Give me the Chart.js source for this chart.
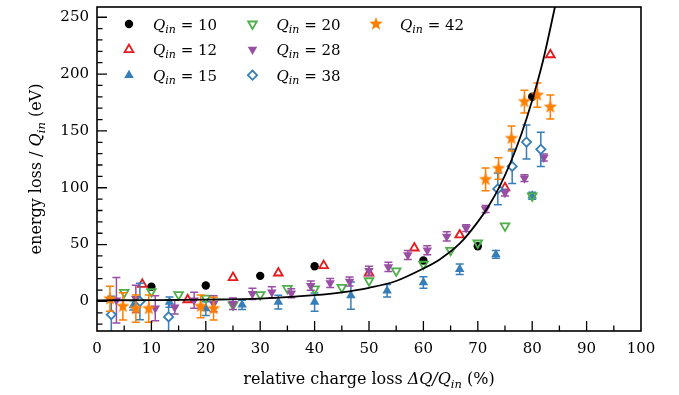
<!DOCTYPE html>
<html>
<head>
<meta charset="utf-8">
<script src="https://cdn.jsdelivr.net/npm/chart.js@4.4.1/dist/chart.umd.min.js"></script>
<style>
  html, body { margin: 0; padding: 0; background: #fff; }
  #wrap { position: relative; width: 679px; height: 395px; }
</style>
</head>
<body>
<div id="wrap"><canvas id="lossChart"></canvas></div>
<script>
// incoming charge states (legend entries)
const qIn = [10, 12, 15, 20, 28, 38, 42];

// relative charge loss (%) and energy loss / Q_in (eV)
const q10X = [10, 20, 30, 40, 60, 70, 80];
const q10Y = [13, 14, 22.5, 31, 36, 48.5, 180];

const q12X = [8.33, 16.67, 25, 33.33, 41.67, 50, 58.33, 66.67, 75, 83.33];
const q12Y = [15, 1.5, 21, 25, 31.5, 25, 47, 58.5, 100, 217];

const q15X = [6.67, 13.33, 20, 26.67, 33.33, 40, 46.67, 53.33, 60, 66.67, 73.33, 80];
const q15Y = [-3.5, -0.6, -6.3, -3, -0.6, -0.6, 5.2, 9.5, 16.7, 28.4, 41.4, 93];
const q15Err = [4, 4.5, 6, 4, 6, 8, 12, 5.5, 5, 4.6, 3.5, 3];

const q20X = [5, 10, 15, 20, 25, 30, 35, 40, 45, 50, 55, 60, 65, 70, 75, 80];
const q20Y = [8, 8.7, 6, 3, -3, 6, 11.5, 11, 12.4, 18.2, 26.9, 32.7, 45, 51.4, 66.5, 92.8];

const q28X = [3.57, 7.14, 10.71, 14.29, 17.86, 21.43, 25, 28.57, 32.14, 35.71, 39.29, 42.86,
              46.43, 50, 53.57, 57.14, 60.71, 64.29, 67.86, 71.43, 75, 78.57, 82.14];
const q28Y = [1, 2.3, -6, -5, 1, -2, -2, 6.7, 8, 7.2, 13.9, 16.2,
              17.6, 26.9, 30.4, 40.8, 45, 57.2, 64.5, 81.3, 95.7, 108.4, 126.6];
const q28Err = [20, 12, 11, 6, 7, 7, 5, 5, 5, 4, 4, 4,
                4, 4, 4, 4, 4, 4, 3, 3, 3, 3, 3];

const q38X = [2.63, 7.89, 13.16, 73.68, 76.32, 78.95, 81.58];
const q38Y = [-11.5, 0, -13.6, 99, 118.8, 140.2, 133.8];
const q38Err = [16, 16, 15, 14, 15, 15, 15];

const q42X = [2.38, 4.76, 7.14, 9.52, 19.05, 21.43, 71.43, 73.81, 76.19, 78.57, 80.95, 83.33];
const q42Y = [2.3, -4.3, -6.3, -6.3, -4.3, -6.3, 107.3, 117, 143.4, 175.8, 181.5, 171];
const q42Err = [11, 12, 12, 12, 10, 10, 10, 9.5, 11, 10, 10.7, 10.5];

// black guide curve
const fitX = [0, 10, 20, 30, 40, 45, 50, 55, 60, 63, 66.7, 70, 72, 74, 76, 78, 80, 82, 84, 86];
const fitY = [1, 1.2, 1.6, 2.5, 5.5, 8, 12, 18, 29, 37, 51, 70, 84, 101, 122, 147, 177, 212, 255, 300];

const xTicks = [0, 10, 20, 30, 40, 50, 60, 70, 80, 90, 100];
const yTicks = [0, 50, 100, 150, 200, 250];

const SERIF = '"DejaVu Serif", serif';
const RED = '#e41a1c', BLUE = '#377eb8', GREEN = '#4daf4a', PURPLE = '#984ea3', ORANGE = '#ff7f00';

function pts(xs, ys) {
    return xs.map((x, i) => ({ x: x, y: ys[i] }));
}

function starImage(color, r) {
    const c = document.createElement('canvas');
    const s = 2 * r + 2;
    c.width = s; c.height = s;
    const g = c.getContext('2d');
    g.fillStyle = color;
    g.beginPath();
    for (let i = 0; i < 10; i++) {
        const rr = i % 2 ? r * 0.42 : r;
        const a = -Math.PI / 2 + i * Math.PI / 5;
        g.lineTo(s / 2 + rr * Math.cos(a), s / 2 + rr * Math.sin(a));
    }
    g.closePath();
    g.fill();
    return c;
}
const star = starImage(ORANGE, 7);

// marker styles, in legend order (Q_in = 10, 12, 15, 20, 28, 38, 42)
const markers = [
    { pointStyle: 'circle', radius: 4.2, rotation: 0, borderWidth: 0, fill: '#000', stroke: '#000' },
    { pointStyle: 'triangle', radius: 5, rotation: 0, borderWidth: 1.8, fill: 'rgba(255,255,255,0)', stroke: RED },
    { pointStyle: 'triangle', radius: 5.5, rotation: 0, borderWidth: 0, fill: BLUE, stroke: BLUE },
    { pointStyle: 'triangle', radius: 5, rotation: 180, borderWidth: 1.8, fill: 'rgba(255,255,255,0)', stroke: GREEN },
    { pointStyle: 'triangle', radius: 5.5, rotation: 180, borderWidth: 0, fill: PURPLE, stroke: PURPLE },
    { pointStyle: 'rectRot', radius: 4.6, rotation: 0, borderWidth: 1.8, fill: '#fff', stroke: BLUE },
    { pointStyle: star, radius: 7, rotation: 0, borderWidth: 0, fill: ORANGE, stroke: ORANGE }
];

function scatterSet(idx, xs, ys, errs) {
    const m = markers[idx];
    return {
        label: 'Q_in = ' + qIn[idx],
        data: pts(xs, ys),
        errors: errs || null,
        pointStyle: m.pointStyle,
        pointRadius: m.radius,
        pointRotation: m.rotation,
        pointBorderWidth: m.borderWidth,
        pointBackgroundColor: m.fill,
        pointBorderColor: m.stroke,
        showLine: false
    };
}

// draws text made of pieces with different fonts / offsets
function rich(ctx, parts, x, y, align) {
    let w = 0;
    parts.forEach(p => { ctx.font = p.f; p.w = ctx.measureText(p.t).width; w += p.w; });
    let cx = align === 'center' ? x - w / 2 : x;
    parts.forEach(p => {
        ctx.font = p.f;
        ctx.fillText(p.t, cx, y + (p.dy || 0));
        cx += p.w;
    });
}

const errorBars = {
    id: 'errorBars',
    beforeDatasetDraw(chart, args) {
        const ds = chart.data.datasets[args.index];
        if (!ds.errors) return;
        const ctx = chart.ctx, xs = chart.scales.x, ys = chart.scales.y, a = chart.chartArea;
        ctx.save();
        ctx.beginPath();
        ctx.rect(a.left, a.top, a.right - a.left, a.bottom - a.top);
        ctx.clip();
        ctx.strokeStyle = ds.pointBorderColor;
        ctx.lineWidth = 1.5;
        ds.data.forEach((p, i) => {
            const px = xs.getPixelForValue(p.x);
            const top = ys.getPixelForValue(p.y + ds.errors[i]);
            const bot = ys.getPixelForValue(p.y - ds.errors[i]);
            ctx.beginPath();
            ctx.moveTo(px, top); ctx.lineTo(px, bot);
            ctx.moveTo(px - 4, top); ctx.lineTo(px + 4, top);
            ctx.moveTo(px - 4, bot); ctx.lineTo(px + 4, bot);
            ctx.stroke();
        });
        ctx.restore();
    }
};

const frame = {
    id: 'frame',
    afterDraw(chart) {
        const ctx = chart.ctx, a = chart.chartArea, xs = chart.scales.x, ys = chart.scales.y;
        ctx.save();
        ctx.strokeStyle = '#000';

        // inward tick marks
        ctx.lineWidth = 1.3;
        ctx.beginPath();
        for (let v = 5; v < 100; v += 5) {
            const px = xs.getPixelForValue(v);
            const len = v % 10 === 0 ? 10 : 5.5;
            ctx.moveTo(px, a.bottom); ctx.lineTo(px, a.bottom - len);
        }
        for (let v = -20; v <= 250; v += 10) {
            const py = ys.getPixelForValue(v);
            const len = v % 50 === 0 ? 10 : 5.5;
            ctx.moveTo(a.left, py); ctx.lineTo(a.left + len, py);
        }
        ctx.stroke();

        ctx.lineWidth = 1.6;
        ctx.strokeRect(a.left, a.top, a.right - a.left, a.bottom - a.top);

        // legend, three columns inside the plot
        ctx.fillStyle = '#000';
        ctx.textBaseline = 'alphabetic';
        qIn.forEach((q, i) => {
            const col = i < 3 ? 0 : (i < 6 ? 1 : 2);
            const row = i % 3;
            const mx = a.left + 32 + col * 123.5;
            const my = a.top + 17 + row * 25.6;
            const m = markers[i];
            ctx.save();
            ctx.fillStyle = m.fill;
            ctx.strokeStyle = m.stroke;
            ctx.lineWidth = m.borderWidth;
            Chart.helpers.drawPoint(ctx, { pointStyle: m.pointStyle, radius: m.radius, rotation: m.rotation, borderWidth: m.borderWidth }, mx, my);
            ctx.restore();
            ctx.fillStyle = '#000';
            rich(ctx, [
                { t: 'Q', f: 'italic 15px ' + SERIF },
                { t: 'in', f: 'italic 11px ' + SERIF, dy: 3 },
                { t: ' = ' + q, f: '15px ' + SERIF }
            ], mx + 24, my + 5.5, 'left');
        });

        // axis titles
        rich(ctx, [
            { t: 'relative charge loss ', f: '16px ' + SERIF },
            { t: 'ΔQ/Q', f: 'italic 16px ' + SERIF },
            { t: 'in', f: 'italic 11.5px ' + SERIF, dy: 3.5 },
            { t: ' (%)', f: '16px ' + SERIF }
        ], (a.left + a.right) / 2, 384, 'center');

        ctx.translate(41, (a.top + a.bottom) / 2);
        ctx.rotate(-Math.PI / 2);
        rich(ctx, [
            { t: 'energy loss / ', f: '16px ' + SERIF },
            { t: 'Q', f: 'italic 16px ' + SERIF },
            { t: 'in', f: 'italic 11.5px ' + SERIF, dy: 3.5 },
            { t: ' (eV)', f: '16px ' + SERIF }
        ], 0, 0, 'center');
        ctx.restore();
    }
};

const tickFont = { family: SERIF, size: 15 };

new Chart(document.getElementById('lossChart'), {
    type: 'scatter',
    data: {
        datasets: [
            {
                type: 'line',
                label: 'fit',
                data: pts(fitX, fitY),
                borderColor: '#000',
                borderWidth: 1.8,
                pointRadius: 0,
                showLine: true,
                fill: false,
                cubicInterpolationMode: 'monotone',
                clip: 0
            },
            scatterSet(6, q42X, q42Y, q42Err),
            scatterSet(5, q38X, q38Y, q38Err),
            scatterSet(4, q28X, q28Y, q28Err),
            scatterSet(3, q20X, q20Y),
            scatterSet(2, q15X, q15Y, q15Err),
            scatterSet(1, q12X, q12Y),
            scatterSet(0, q10X, q10Y)
        ]
    },
    options: {
        responsive: true,
        maintainAspectRatio: false,
        animation: false,
        layout: { padding: { left: 0, right: 38, top: 3, bottom: 0 } },
        plugins: { legend: { display: false }, tooltip: { enabled: false } },
        scales: {
            x: {
                type: 'linear',
                min: 0,
                max: 100,
                afterBuildTicks: s => { s.ticks = xTicks.map(v => ({ value: v })); },
                afterFit: s => { s.height = 64; s.paddingLeft = 0; s.paddingRight = 0; },
                grid: { display: false, drawTicks: false },
                border: { display: false },
                ticks: { font: tickFont, color: '#000', padding: 9, maxRotation: 0, autoSkip: false }
            },
            y: {
                type: 'linear',
                min: -26,
                max: 259,
                afterBuildTicks: s => { s.ticks = yTicks.map(v => ({ value: v })); },
                afterFit: s => { s.width = 97; s.paddingTop = 0; s.paddingBottom = 0; },
                grid: { display: false, drawTicks: false },
                border: { display: false },
                ticks: { font: tickFont, color: '#000', padding: 8 }
            }
        }
    },
    plugins: [errorBars, frame]
});
</script>
</body>
</html>
